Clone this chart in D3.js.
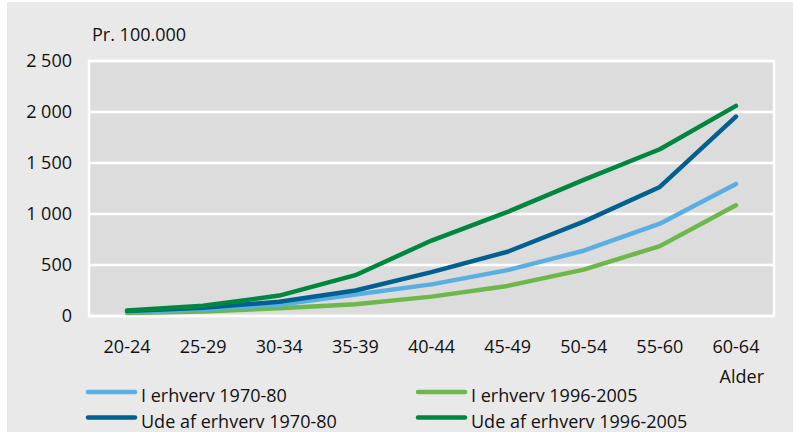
<!DOCTYPE html>
<html>
<head>
<meta charset="utf-8">
<script src="https://cdn.jsdelivr.net/npm/d3@7"></script>
<style>
  body { margin: 0; background: #fff; }
  text { font-family: "Open Sans", sans-serif; fill: #111; }
</style>
</head>
<body>
<div id="chart"></div>
<script>
// age groups on the x axis
const ages = ["20-24", "25-29", "30-34", "35-39", "40-44", "45-49", "50-54", "55-60", "60-64"];
const yTicks = [0, 500, 1000, 1500, 2000, 2500];

// rates per 100.000
const iErhverv7080 = [40, 65, 110, 210, 310, 450, 640, 905, 1295];
const iErhverv9605 = [30, 45, 75, 115, 190, 295, 455, 685, 1085];
const udeErhverv7080 = [50, 80, 140, 250, 430, 630, 925, 1265, 1955];
const udeErhverv9605 = [55, 100, 200, 400, 740, 1020, 1335, 1635, 2060];

const series = [
    { name: "I erhverv 1970-80", values: iErhverv7080, color: "#5aafe2" },
    { name: "I erhverv 1996-2005", values: iErhverv9605, color: "#6cb84b" },
    { name: "Ude af erhverv 1970-80", values: udeErhverv7080, color: "#00608f" },
    { name: "Ude af erhverv 1996-2005", values: udeErhverv9605, color: "#00873f" }
];

const W = 795, H = 432;
const margin = { top: 61, right: 21, bottom: 116, left: 89 },
    width = W - margin.left - margin.right,
    height = H - margin.top - margin.bottom;

const fontSize = "18px";

const svg = d3.select("#chart")
    .append("svg")
    .attr("width", W)
    .attr("height", H);

// grey outer panel
svg.append("rect")
    .attr("x", 7).attr("y", 2)
    .attr("width", 786).attr("height", H - 2)
    .attr("fill", "#e9e9e9");

const g = svg.append("g")
    .attr("transform", `translate(${margin.left}, ${margin.top})`);

const x = d3.scaleBand().domain(ages).range([0, width]);
const y = d3.scaleLinear().domain([0, 2500]).range([height, 0]);

const locale = d3.formatLocale({ decimal: ",", thousands: " ", grouping: [3], currency: ["", " kr"] });
const fmt = locale.format(",d");

// plot background
g.append("rect")
    .attr("width", width)
    .attr("height", height)
    .attr("fill", "#dcdcdc")
    .attr("stroke", "#fff")
    .attr("stroke-width", 2.5);

// gridlines
g.selectAll(".grid")
    .data(yTicks)
    .enter()
    .append("line")
    .attr("x1", 0).attr("x2", width)
    .attr("y1", d => y(d)).attr("y2", d => y(d))
    .attr("stroke", "#fff")
    .attr("stroke-width", 2.5);

// y axis labels
g.append("g")
    .call(d3.axisLeft(y).tickValues(yTicks).tickFormat(fmt).tickSize(0).tickPadding(17))
    .call(a => a.select(".domain").remove())
    .selectAll("text")
    .style("font-family", "'Open Sans', sans-serif")
    .style("font-size", fontSize)
    .attr("fill", "#111");

// x axis labels
g.append("g")
    .attr("transform", `translate(0, ${height})`)
    .call(d3.axisBottom(x).tickSize(0).tickPadding(24))
    .call(a => a.select(".domain").remove())
    .selectAll("text")
    .style("font-family", "'Open Sans', sans-serif")
    .style("font-size", fontSize)
    .attr("fill", "#111");

svg.append("text")
    .attr("x", 92).attr("y", 41)
    .style("font-size", fontSize)
    .text("Pr. 100.000");

svg.append("text")
    .attr("x", 764).attr("y", 383)
    .attr("text-anchor", "end")
    .style("font-size", fontSize)
    .text("Alder");

const line = d3.line()
    .x((d, i) => x(ages[i]) + x.bandwidth() / 2)
    .y(d => y(d));

// draw order: light lines first, dark on top
[series[1], series[0], series[2], series[3]].forEach(s => {
    g.append("path")
        .datum(s.values)
        .attr("d", line)
        .attr("fill", "none")
        .attr("stroke", s.color)
        .attr("stroke-width", 4.5)
        .attr("stroke-linecap", "round")
        .attr("stroke-linejoin", "round");
});

// legend, two columns
const legend = svg.append("g");
series.forEach((s, i) => {
    const col = i % 2, row = Math.floor(i / 2);
    const lx = col === 0 ? 88 : 418;
    const ly = 392 + row * 25.5;
    legend.append("line")
        .attr("x1", lx).attr("x2", lx + 47)
        .attr("y1", ly).attr("y2", ly)
        .attr("stroke", s.color)
        .attr("stroke-width", 4.5)
        .attr("stroke-linecap", "round");
    legend.append("text")
        .attr("x", lx + 53)
        .attr("y", ly + 10)
        .style("font-size", fontSize)
        .text(s.name);
});
</script>
</body>
</html>
